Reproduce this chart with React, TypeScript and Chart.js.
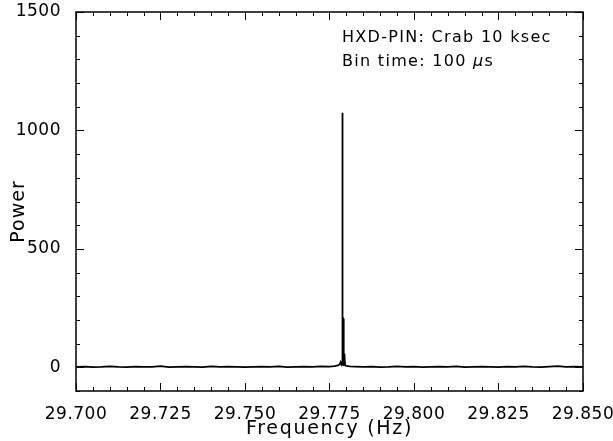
import React, { useEffect, useRef } from "react";
import { Chart, registerables } from "chart.js";
Chart.register(...registerables);

// Frequency bins (Hz) and power values
const FREQ = [
  29.7, 29.7025, 29.705, 29.7075, 29.71, 29.7125, 29.715, 29.7175, 29.72, 29.7225,
  29.725, 29.7275, 29.73, 29.7325, 29.735, 29.7375, 29.74, 29.7425, 29.745, 29.7475,
  29.75, 29.7525, 29.755, 29.7575, 29.76, 29.7625, 29.765, 29.7675, 29.77, 29.7725,
  29.775, 29.7765, 29.7775, 29.778, 29.7783, 29.7786, 29.7787, 29.7788, 29.7789, 29.7791,
  29.7792, 29.7794, 29.7796, 29.78, 29.781, 29.7825, 29.785, 29.7875, 29.79, 29.7925,
  29.795, 29.7975, 29.8, 29.8025, 29.805, 29.8075, 29.81, 29.8125, 29.815, 29.8175,
  29.82, 29.8225, 29.825, 29.8275, 29.83, 29.8325, 29.835, 29.8375, 29.84, 29.8425,
  29.845, 29.8475, 29.85,
];
const POWER = [
  2, 3, 1, 2, 4, 2, 1, 3, 2, 2,
  5, 1, 2, 3, 2, 1, 4, 2, 3, 2,
  1, 2, 3, 2, 4, 1, 2, 3, 2, 4,
  3, 5, 8, 12, 22, 10, 12, 1075, 212, 205,
  6, 58, 8, 6, 4, 3, 2, 3, 1, 2,
  4, 2, 3, 1, 2, 3, 2, 4, 1, 2,
  3, 2, 1, 3, 2, 4, 2, 1, 3, 5,
  2, 3, 2,
];
const X_TICKS = [29.7, 29.725, 29.75, 29.775, 29.8, 29.825, 29.85];
const Y_TICKS = [0, 500, 1000, 1500];
const X_RANGE = [29.7, 29.85];
const Y_RANGE = [-100, 1500];
const X_MINOR_STEP = 0.005;
const Y_MINOR_STEP = 100;
const X_TITLE = "Frequency (Hz)";
const Y_TITLE = "Power";
const NOTE_1 = "HXD-PIN: Crab 10 ksec";
const NOTE_2A = "Bin time: 100 ";
const NOTE_2MU = "\u03bc";
const NOTE_2B = "s";

const FONT = "'DejaVu Sans', sans-serif";

const framePlugin = {
  id: "frame",
  beforeDraw(chart: any) {
    const ctx = chart.ctx;
    ctx.fillStyle = "#fff";
    ctx.fillRect(0, 0, chart.width, chart.height);
    (ctx as any).letterSpacing = "0.5px";
  },
  afterDraw(chart: any) {
    const ctx = chart.ctx;
    const { left, right, top, bottom } = chart.chartArea;
    const xs = chart.scales.x;
    const ys = chart.scales.y;
    ctx.save();
    ctx.strokeStyle = "#000";
    ctx.lineWidth = 1.5;
    ctx.strokeRect(left, top, right - left, bottom - top);
    ctx.lineWidth = 1;
    ctx.beginPath();
    const nX = Math.round((X_RANGE[1] - X_RANGE[0]) / X_MINOR_STEP);
    for (let i = 0; i <= nX; i++) {
      const v = X_RANGE[0] + i * X_MINOR_STEP;
      const px = Math.round(xs.getPixelForValue(v)) + 0.5;
      const major = i % 5 === 0;
      const len = major ? 8 : 4;
      ctx.moveTo(px, bottom);
      ctx.lineTo(px, bottom - len);
      ctx.moveTo(px, top);
      ctx.lineTo(px, top + len);
    }
    const nY = Math.round((Y_RANGE[1] - Y_RANGE[0]) / Y_MINOR_STEP);
    for (let i = 0; i <= nY; i++) {
      const v = Y_RANGE[0] + i * Y_MINOR_STEP;
      const py = Math.round(ys.getPixelForValue(v)) + 0.5;
      const major = v % 500 === 0;
      const len = major ? 8 : 4;
      ctx.moveTo(left, py);
      ctx.lineTo(left + len, py);
      ctx.moveTo(right, py);
      ctx.lineTo(right - len, py);
    }
    ctx.stroke();

    ctx.fillStyle = "#000";
    (ctx as any).letterSpacing = "1.7px";
    ctx.font = `19px ${FONT}`;
    ctx.textAlign = "center";
    ctx.textBaseline = "alphabetic";
    ctx.fillText(X_TITLE, (left + right) / 2, 434);
    ctx.save();
    (ctx as any).letterSpacing = "1px";
    ctx.translate(24, (top + bottom) / 2 + 10);
    ctx.rotate(-Math.PI / 2);
    ctx.fillText(Y_TITLE, 0, 0);
    ctx.restore();

    (ctx as any).letterSpacing = "1.3px";
    ctx.textAlign = "left";
    ctx.font = `16px ${FONT}`;
    const ax = 342;
    ctx.fillText(NOTE_1, ax, 42);
    ctx.fillText(NOTE_2A, ax, 66);
    let w = ctx.measureText(NOTE_2A).width;
    ctx.font = `italic 16px ${FONT}`;
    ctx.fillText(NOTE_2MU, ax + w, 66);
    w += ctx.measureText(NOTE_2MU).width;
    ctx.font = `16px ${FONT}`;
    ctx.fillText(NOTE_2B, ax + w, 66);
    (ctx as any).letterSpacing = "0px";
    ctx.restore();
  },
};

export default function App() {
  const ref = useRef<HTMLCanvasElement>(null);
  useEffect(() => {
    document.body.style.margin = "0";
    const canvas = ref.current!;
    const chart = new Chart(canvas, {
      type: "line",
      data: {
        datasets: [
          {
            data: FREQ.map((f, i) => ({ x: f, y: POWER[i] })),
            borderColor: "#000",
            borderWidth: 1.8,
            pointRadius: 0,
            tension: 0,
          },
        ],
      },
      options: {
        animation: false,
        responsive: false,
        devicePixelRatio: 1,
        events: [],
        layout: { padding: { top: 12, right: 30, left: 0, bottom: 0 } },
        plugins: { legend: { display: false }, tooltip: { enabled: false } },
        scales: {
          x: {
            type: "linear",
            min: X_RANGE[0],
            max: X_RANGE[1],
            afterBuildTicks: (s: any) => {
              s.ticks = X_TICKS.map((v) => ({ value: v }));
            },
            afterFit: (s: any) => {
              s.height = 50;
              s.paddingLeft = 0;
              s.paddingRight = 0;
            },
            ticks: {
              callback: (v: any) => Number(v).toFixed(3),
              font: { family: FONT, size: 17 },
              color: "#000",
              padding: 5,
              maxRotation: 0,
              autoSkip: false,
            },
            grid: { display: false },
            border: { display: false },
          },
          y: {
            type: "linear",
            min: Y_RANGE[0],
            max: Y_RANGE[1],
            afterBuildTicks: (s: any) => {
              s.ticks = Y_TICKS.map((v) => ({ value: v }));
            },
            afterFit: (s: any) => {
              s.width = 76;
              s.paddingTop = 0;
              s.paddingBottom = 0;
            },
            ticks: {
              callback: (v: any) => String(v),
              font: { family: FONT, size: 17 },
              color: "#000",
              padding: 7,
            },
            grid: { display: false },
            border: { display: false },
          },
        },
      },
      plugins: [framePlugin],
    });
    return () => chart.destroy();
  }, []);
  return (
    <div style={{ width: 613, height: 441 }}>
      <canvas ref={ref} width={613} height={441} style={{ display: "block" }} />
    </div>
  );
}
